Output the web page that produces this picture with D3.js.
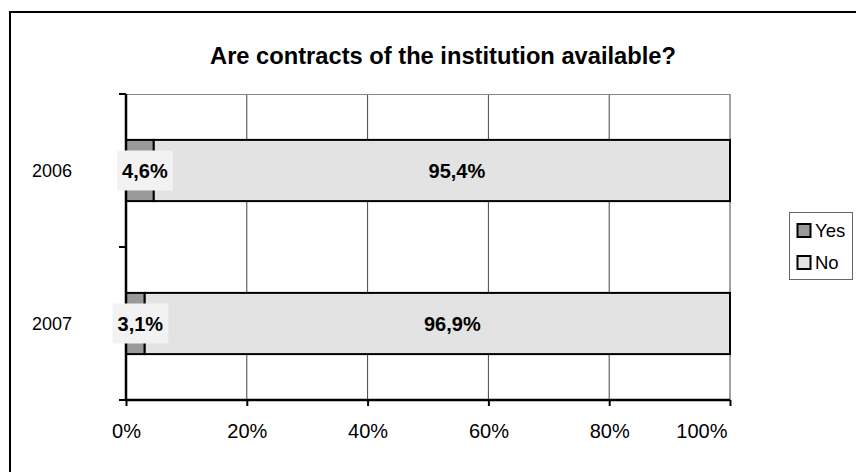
<!DOCTYPE html>
<html><head><meta charset="utf-8">
<script src="https://cdn.jsdelivr.net/npm/d3@7"></script>
<style>body{margin:0;background:#fff}svg{display:block}</style>
</head><body>
<script>
const title = "Are contracts of the institution available?";
const categories = ["2006", "2007"];
const seriesNames = ["Yes", "No"];
const yesValues = [4.6, 3.1];
const noValues = [95.4, 96.9];
const xTicks = [0, 20, 40, 60, 80, 100];
const colors = ["#999999", "#e3e3e3"];

const FONT = "Arial, 'Liberation Sans', sans-serif";
const W = 856, H = 472;
const svg = d3.select("body").append("svg").attr("width", W).attr("height", H);
svg.append("rect").attr("width", W).attr("height", H).attr("fill", "#fff");
svg.append("path").attr("d", `M10,${H} L10,12 L${W},12`).attr("fill","none").attr("stroke","#000").attr("stroke-width",2);

const m = {left:126, right:730, top:94, bottom:400};
const x = d3.scaleLinear().domain([0,100]).range([m.left, m.right]);
const y = d3.scaleBand().domain(categories).range([m.top, m.bottom]).paddingInner(0.6).paddingOuter(0.3);
const yOuter = d3.scaleBand().domain(categories).range([m.top, m.bottom]);

svg.append("g").selectAll("line").data(xTicks.slice(1)).join("line")
  .attr("x1", d=>x(d)).attr("x2", d=>x(d)).attr("y1", m.top).attr("y2", m.bottom)
  .attr("stroke", "#444").attr("stroke-width", 1);
svg.append("line").attr("x1", m.left).attr("x2", m.right).attr("y1", m.top+0.5).attr("y2", m.top+0.5)
  .attr("stroke","#888").attr("stroke-width",1);

const rows = categories.map((c,i)=>({cat:c, Yes:yesValues[i], No:noValues[i]}));
const stack = d3.stack().keys(seriesNames)(rows);

const gBars = svg.append("g");
stack.forEach((s, si)=>{
  gBars.selectAll(null).data(s).join("rect")
    .attr("x", d=>x(d[0])).attr("width", d=>x(d[1])-x(d[0]))
    .attr("y", d=>y(d.data.cat)).attr("height", y.bandwidth())
    .attr("fill", colors[si]).attr("stroke","#000").attr("stroke-width",2);
});

const xAxis = d3.axisBottom(x).tickValues(xTicks).tickFormat(d=>d+"%").tickSize(6).tickPadding(18);
const gx = svg.append("g").attr("transform",`translate(0,${m.bottom})`).call(xAxis);
gx.select(".domain").attr("stroke","#000").attr("stroke-width",2.5).attr("d",`M${m.left},0H${m.right}`);
gx.selectAll(".tick line").attr("stroke","#000").attr("stroke-width",2);
gx.selectAll("text").attr("font-family",FONT).attr("font-size",20).attr("fill","#000");
// last label kept inside the plot edge, as in the original
gx.selectAll(".tick text").filter(d=>d===100).attr("text-anchor","end").attr("x",-3);

const yTickPos = [m.top, ...categories.map(c=>yOuter(c)+yOuter.bandwidth())];
const gy = svg.append("g");
gy.append("line").attr("x1", m.left).attr("x2", m.left).attr("y1", m.top).attr("y2", m.bottom+1)
  .attr("stroke","#000").attr("stroke-width",2.5);
gy.selectAll(".yt").data(yTickPos).join("line")
  .attr("x1", m.left-7).attr("x2", m.left).attr("y1", d=>d).attr("y2", d=>d)
  .attr("stroke","#000").attr("stroke-width",2);
gy.selectAll("text").data(categories).join("text")
  .attr("x", 72).attr("y", c=>y(c)+y.bandwidth()/2).attr("dy","0.35em")
  .attr("text-anchor","end").attr("font-family",FONT).attr("font-size",18)
  .text(c=>c);

const labelOffset = [5, 15];
stack.forEach((s, si)=>{
  s.forEach(d=>{
    const cx = (x(d[0])+x(d[1]))/2 + labelOffset[si];
    const cy = y(d.data.cat)+y.bandwidth()/2;
    const t = svg.append("text").attr("x", cx).attr("y", cy).attr("dy","0.35em")
      .attr("text-anchor","middle").attr("font-family",FONT)
      .attr("font-size",20).attr("font-weight","bold")
      .text(d3.format(".1f")(d[1]-d[0]).replace(".", ",")+"%");
    if (si===0) {
      const bb = t.node().getBBox();
      svg.insert("rect", () => t.node()).attr("x", bb.x-5).attr("y", cy-20).attr("width", bb.width+10).attr("height", 40)
        .attr("fill","#f2f2f2");
    }
  });
});

svg.append("text").attr("x", 443).attr("y", 64).attr("text-anchor","middle")
  .attr("font-family",FONT).attr("font-size",23.7).attr("font-weight","bold")
  .text(title);

const lg = svg.append("g");
lg.append("rect").attr("x",789.5).attr("y",212.5).attr("width",63).attr("height",67)
  .attr("fill","#fff").attr("stroke","#666").attr("stroke-width",1);
seriesNames.forEach((n,i)=>{
  const ly = 230.5 + i*32;
  lg.append("rect").attr("x",797.5).attr("y",ly-6.5).attr("width",13).attr("height",13)
    .attr("fill",colors[i]).attr("stroke","#000").attr("stroke-width",2);
  lg.append("text").attr("x",815).attr("y",ly).attr("dy","0.36em")
    .attr("font-family",FONT).attr("font-size",18.5).text(n);
});
</script>
</body></html>
